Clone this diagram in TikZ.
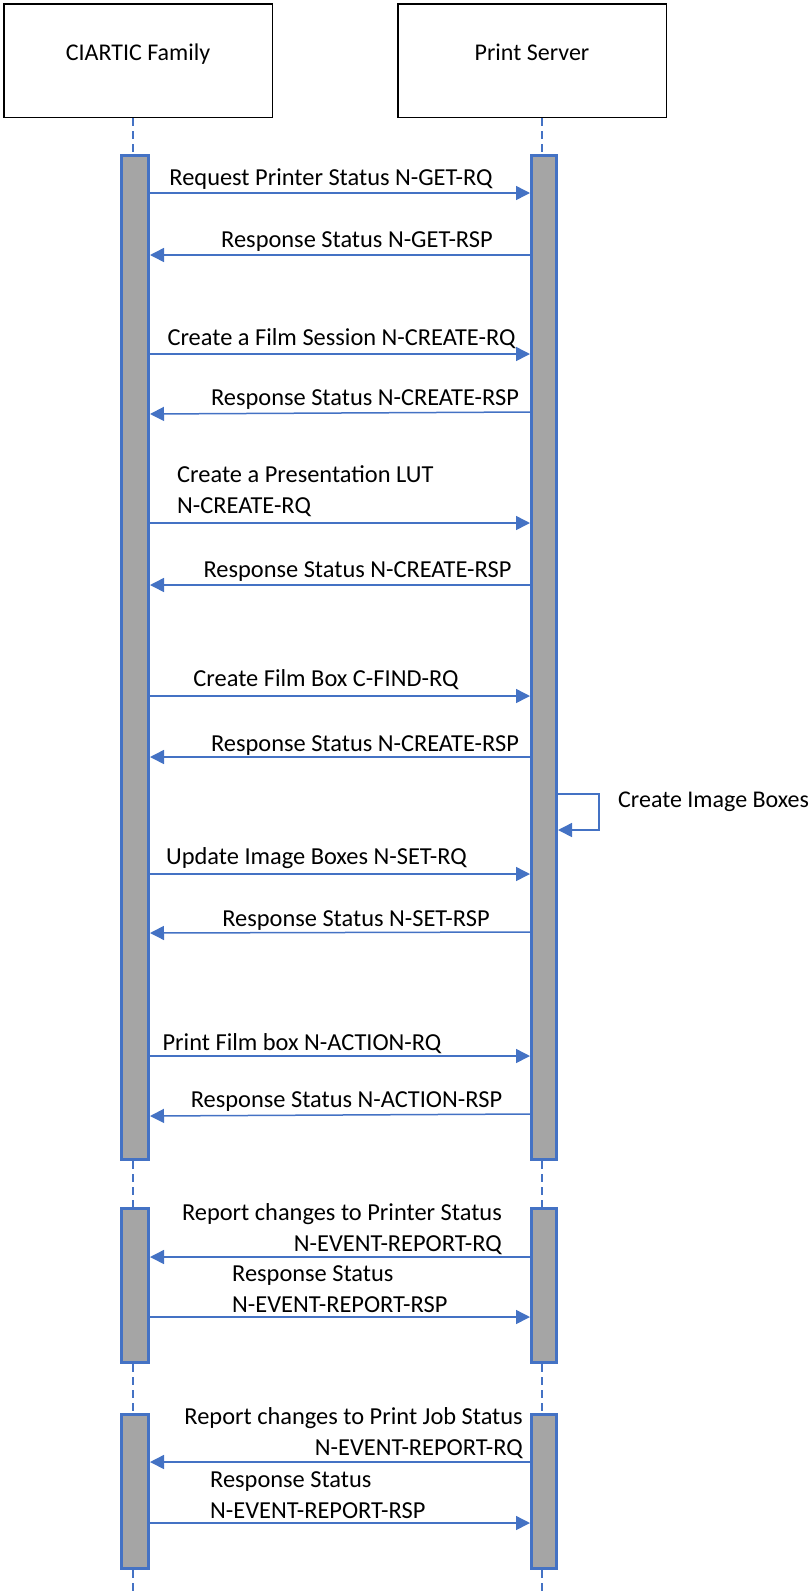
\documentclass[tikz,border=0pt]{standalone}
\usepackage{fontspec}
\setmainfont{Carlito}
\usetikzlibrary{arrows.meta}
\definecolor{msgblue}{HTML}{4472C4}
\definecolor{bargray}{HTML}{A5A5A5}
\begin{document}
\begin{tikzpicture}[x=1pt,y=-1pt,
  font=\fontsize{24}{31}\selectfont,
  actor/.style={draw=black,line width=1.5pt,minimum width=268.5pt,minimum height=113.5pt,inner sep=0pt,text height=12pt,text depth=12pt},
  actbar/.style={draw=msgblue,fill=bargray,line width=3pt,inner sep=0pt,minimum width=#1},
  life/.style={draw=msgblue,line width=1.3pt,dash pattern=on 8pt off 5pt},
  msg/.style={draw=msgblue,line width=1.5pt,-{Triangle[length=14pt,width=14pt]}},
  lbl/.style={inner sep=0pt,text=black,font=\fontsize{24.4}{31}\selectfont}
]
\useasboundingbox (0,0) rectangle (811,1596);
% actors
\node[actor] (boxL) at (138,60.5) {CIARTIC Family};
\node[actor] (boxR) at (532,60.5) {Print Server};
% lifeline x positions
\coordinate (lx) at (133,0);
\coordinate (rx) at (542,0);
\coordinate (bot) at (0,1596);
% activation bars
\node[actbar=27pt,minimum height=1004pt] (l1) at (135,657.5) {};
\node[actbar=25pt,minimum height=1004pt] (r1) at (544,657.5) {};
\node[actbar=27pt,minimum height=154pt] (l2) at (135,1285.5) {};
\node[actbar=25pt,minimum height=154pt] (r2) at (544,1285.5) {};
\node[actbar=27pt,minimum height=154pt] (l3) at (135,1491.5) {};
\node[actbar=25pt,minimum height=154pt] (r3) at (544,1491.5) {};
% lifelines
\draw[life] (lx |- boxL.south) -- (lx |- l1.north);
\draw[life] (lx |- l1.south) -- (lx |- l2.north);
\draw[life] (lx |- l2.south) -- (lx |- l3.north);
\draw[life] (lx |- l3.south) -- (lx |- bot);
\draw[life] (rx |- boxR.south) -- (rx |- r1.north);
\draw[life] (rx |- r1.south) -- (rx |- r2.north);
\draw[life] (rx |- r2.south) -- (rx |- r3.north);
\draw[life] (rx |- r3.south) -- (rx |- bot);
% messages
\draw[msg] (l1.east |- 0,193) -- (r1.west |- 0,193);
\node[lbl,anchor=base] (t1) at (331,185) {Request Printer Status N-GET-RQ};
\draw[msg] (r1.west |- 0,255) -- (l1.east |- 0,255);
\node[lbl,anchor=base] (t2) at (357,247) {Response Status N-GET-RSP};
\draw[msg] (l1.east |- 0,354) -- (r1.west |- 0,354);
\node[lbl,anchor=base] (t3) at (341.5,345) {Create a Film Session N-CREATE-RQ};
\draw[msg] (r1.west |- 0,412) -- (l1.east |- 0,414);
\node[lbl,anchor=base] (t4) at (365,405) {Response Status N-CREATE-RSP};
\draw[msg] (l1.east |- 0,523) -- (r1.west |- 0,523);
\node[lbl,anchor=base west,align=left] (t5) at (177,513) {Create a Presentation LUT\\N-CREATE-RQ};
\draw[msg] (r1.west |- 0,585) -- (l1.east |- 0,585);
\node[lbl,anchor=base] (t6) at (357.5,577) {Response Status N-CREATE-RSP};
\draw[msg] (l1.east |- 0,696) -- (r1.west |- 0,696);
\node[lbl,anchor=base] (t7) at (326,686) {Create Film Box C-FIND-RQ};
\draw[msg] (r1.west |- 0,757) -- (l1.east |- 0,757);
\node[lbl,anchor=base] (t8) at (365,751) {Response Status N-CREATE-RSP};
% self message
\draw[msg] (r1.east |- 0,794) -- ++(41,0) |- (r1.east |- 0,830);
\node[lbl,anchor=base west,font=\fontsize{24}{31}\selectfont] (t9) at (618,807) {Create Image Boxes};
\draw[msg] (l1.east |- 0,874) -- (r1.west |- 0,874);
\node[lbl,anchor=base] (t10) at (316.5,864) {Update Image Boxes N-SET-RQ};
\draw[msg] (r1.west |- 0,932) -- (l1.east |- 0,933);
\node[lbl,anchor=base] (t11) at (356,926) {Response Status N-SET-RSP};
\draw[msg] (l1.east |- 0,1056) -- (r1.west |- 0,1056);
\node[lbl,anchor=base] (t12) at (302,1050) {Print Film box N-ACTION-RQ};
\draw[msg] (r1.west |- 0,1114) -- (l1.east |- 0,1116);
\node[lbl,anchor=base] (t13) at (346.5,1107) {Response Status N-ACTION-RSP};
% event report 1
\draw[msg] (r2.west |- 0,1257) -- (l2.east |- 0,1257);
\node[lbl,anchor=base east,align=right] (t14) at (502,1251) {Report changes to Printer Status\\N-EVENT-REPORT-RQ};
\draw[msg] (l2.east |- 0,1317) -- (r2.west |- 0,1317);
\node[lbl,anchor=base west,align=left] (t15) at (232,1312) {Response Status\\N-EVENT-REPORT-RSP};
% event report 2
\draw[msg] (r3.west |- 0,1462) -- (l3.east |- 0,1462);
\node[lbl,anchor=base east,align=right] (t16) at (523,1455) {Report changes to Print Job Status\\N-EVENT-REPORT-RQ};
\draw[msg] (l3.east |- 0,1523) -- (r3.west |- 0,1523);
\node[lbl,anchor=base west,align=left] (t17) at (210,1518) {Response Status\\N-EVENT-REPORT-RSP};
\end{tikzpicture}
\end{document}
